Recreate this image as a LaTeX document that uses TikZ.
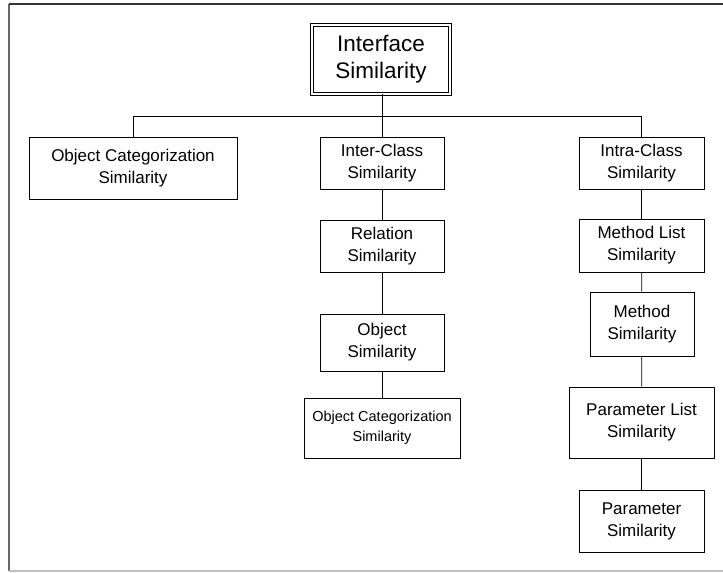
\documentclass[tikz,border=0pt]{standalone}
\usepackage{fontspec}
\setmainfont{Liberation Sans}
\begin{document}
\begin{tikzpicture}[x=1pt,y=-1pt,
  box/.style={draw, line width=0.8pt, align=center, inner sep=0pt,
    font=\fontsize{17}{22}\selectfont},
  link/.style={line width=0.8pt}]
\useasboundingbox (0,0) rectangle (723,573);
% page frame
\draw[line width=1.6pt, black!60] (9,4) -- (9,571);
\draw[line width=1.2pt, black!80] (9,4) -- (723,4);
\draw[line width=1.2pt, black!25] (9,571) -- (723,571);

% root
\node[box, double, double distance=2pt, line width=0.7pt,
  minimum width=138pt, minimum height=69pt,
  font=\fontsize{22.5}{27}\selectfont] (root) at (381,59.5) {Interface\\Similarity};

% first level
\node[box, minimum width=208pt, minimum height=62pt] (objcat) at (133,168) {Object Categorization\\Similarity};
\node[box, minimum width=124pt, minimum height=52pt] (inter) at (382,163) {Inter-Class\\Similarity};
\node[box, minimum width=125pt, minimum height=52pt] (intra) at (641.5,163) {Intra-Class\\Similarity};

% inter-class chain
\node[box, minimum width=124pt, minimum height=52pt] (relation) at (382,246) {Relation\\Similarity};
\node[box, minimum width=124pt, minimum height=57pt] (object) at (382,342.5) {Object\\Similarity};
\node[box, minimum width=156pt, minimum height=60pt,
  font=\fontsize{14.5}{20}\selectfont] (objcat2) at (382,428) {Object Categorization\\Similarity};

% intra-class chain
\node[box, minimum width=125pt, minimum height=53pt] (mlist) at (641.5,245.5) {Method List\\Similarity};
\node[box, minimum width=104pt, minimum height=64pt] (method) at (642,324) {Method\\Similarity};
\node[box, minimum width=145pt, minimum height=71pt] (plist) at (641.5,422.5) {Parameter List\\Similarity};
\node[box, minimum width=125pt, minimum height=62pt] (param) at (641.5,521) {Parameter\\Similarity};

% tree bus
\coordinate (bus) at (382,116);
\draw[link] (root.south -| bus) -- (bus);
\draw[link] (objcat.north) -- (objcat.north |- bus) -- (intra.north |- bus) -- (intra.north);
\draw[link] (inter.north) -- (inter.north |- bus);

% chains
\draw[link] (inter) -- (relation);
\draw[link] (relation) -- (object);
\draw[link] (object) -- (objcat2);
\draw[link] (intra) -- (mlist);
\draw[link] (mlist) -- (method);
\draw[link] (method) -- (plist);
\draw[link] (plist) -- (param);
\end{tikzpicture}
\end{document}
